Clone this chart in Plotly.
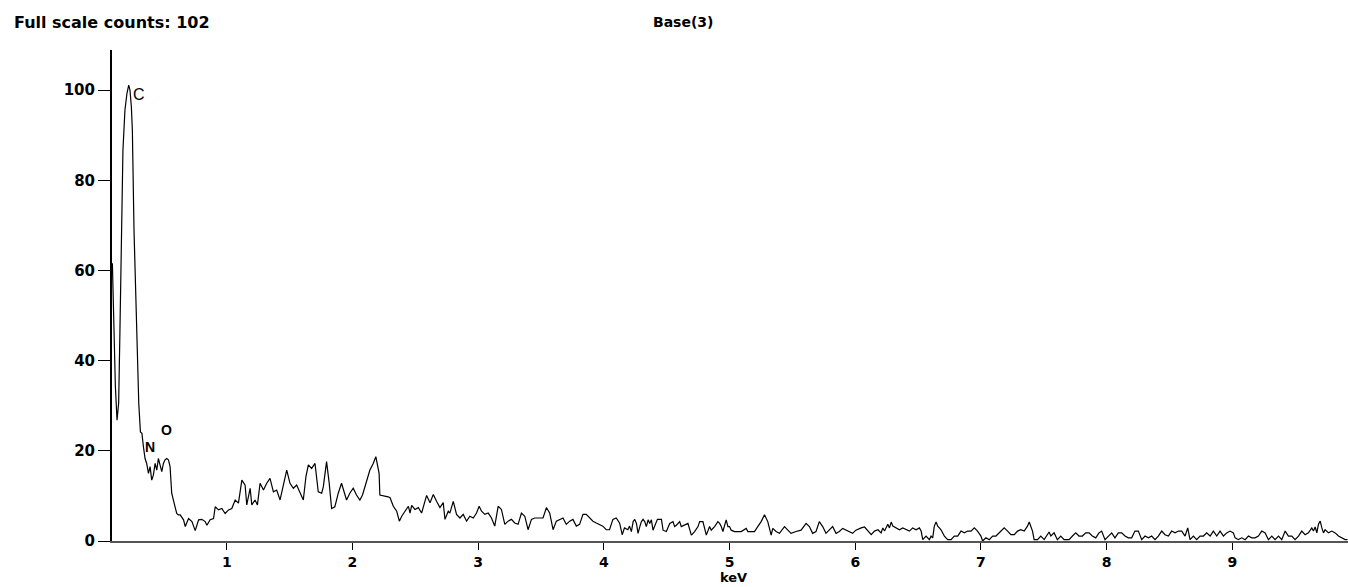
import plotly.graph_objects as go

# ---- data (energy in keV, counts) ----
energy_kev = [
    0.090, 0.100, 0.114, 0.127, 0.140, 0.150, 0.162, 0.174, 0.190, 0.206, 0.220, 0.230, 0.241, 0.249,
    0.262, 0.280, 0.300, 0.313, 0.325, 0.337, 0.350, 0.363, 0.377, 0.390, 0.403, 0.416, 0.430, 0.443,
    0.456, 0.469, 0.483, 0.496, 0.509, 0.522, 0.536, 0.549, 0.562, 0.575, 0.589, 0.602, 0.615,
    0.630, 0.656, 0.670, 0.696, 0.723, 0.749, 0.776, 0.802, 0.828, 0.842, 0.868, 0.895, 0.908, 0.934,
    0.961, 0.987, 1.014, 1.040, 1.067, 1.093, 1.120, 1.146, 1.159, 1.186, 1.199, 1.225, 1.244, 1.265,
    1.292, 1.318, 1.344, 1.371, 1.397, 1.424, 1.450, 1.477, 1.503, 1.530, 1.556, 1.583, 1.609, 1.630,
    1.649, 1.675, 1.702, 1.728, 1.755, 1.768, 1.794, 1.815, 1.834, 1.860, 1.887, 1.913, 1.940, 1.953,
    1.979, 2.006, 2.032, 2.059, 2.080, 2.112, 2.138, 2.165, 2.186, 2.212, 2.218, 2.284, 2.299,
    2.325, 2.352, 2.373, 2.392, 2.418, 2.445, 2.458, 2.471, 2.497, 2.524, 2.550, 2.577, 2.590, 2.617,
    2.643, 2.669, 2.696, 2.722, 2.736, 2.762, 2.775, 2.802, 2.828, 2.855, 2.881, 2.908, 2.934, 2.961,
    2.987, 3.008, 3.027, 3.053, 3.080, 3.106, 3.132, 3.159, 3.185, 3.212, 3.238, 3.265, 3.291, 3.318,
    3.344, 3.371, 3.397, 3.424, 3.450, 3.516, 3.543, 3.569, 3.596, 3.622, 3.648, 3.675, 3.701, 3.728,
    3.754, 3.781, 3.807, 3.834, 3.860, 3.887, 3.913, 3.940, 3.992, 4.019, 4.045, 4.072, 4.098, 4.125,
    4.146, 4.164, 4.191, 4.204,
    4.219, 4.233, 4.246, 4.259, 4.272, 4.286, 4.299, 4.312, 4.325, 4.338, 4.352, 4.365, 4.378, 4.391,
    4.405, 4.426, 4.458, 4.471, 4.497, 4.524, 4.550, 4.563, 4.577, 4.603, 4.616, 4.643, 4.669, 4.696,
    4.722, 4.749, 4.762, 4.788, 4.802, 4.815, 4.841, 4.854, 4.881, 4.907, 4.921, 4.934, 4.947, 4.973,
    4.987, 5.000, 5.013, 5.040, 5.066, 5.093, 5.132, 5.146, 5.198, 5.225, 5.251, 5.278, 5.304, 5.331,
    5.344, 5.370, 5.397, 5.437, 5.463, 5.489, 5.529, 5.569, 5.609, 5.635, 5.661, 5.688, 5.714, 5.741,
    5.767, 5.794, 5.820, 5.847, 5.873, 5.900, 5.926, 5.952, 5.979, 6.005, 6.032,
    6.047, 6.074, 6.100, 6.127, 6.153, 6.180, 6.206, 6.219, 6.233, 6.259, 6.272, 6.286, 6.299, 6.325,
    6.352, 6.378, 6.405, 6.431, 6.457, 6.484, 6.510, 6.524, 6.537, 6.563, 6.590, 6.603, 6.616, 6.629,
    6.643, 6.656, 6.669, 6.682, 6.709, 6.735, 6.762, 6.788, 6.815, 6.841, 6.868, 6.894, 6.921, 6.947,
    6.973, 7.000, 7.013, 7.040, 7.066, 7.093, 7.119, 7.159, 7.185, 7.212, 7.238, 7.265, 7.291, 7.317,
    7.344, 7.370, 7.384, 7.410, 7.423, 7.450, 7.476, 7.503, 7.529, 7.542, 7.556, 7.582, 7.608, 7.635,
    7.661, 7.701, 7.728, 7.754, 7.780, 7.807, 7.833, 7.860, 7.886, 7.913, 7.939,
    7.960, 7.987, 8.013, 8.040, 8.066, 8.093, 8.119, 8.146, 8.172, 8.199, 8.225, 8.252, 8.279, 8.305,
    8.332, 8.358, 8.385, 8.411, 8.438, 8.464, 8.491, 8.517, 8.544, 8.571, 8.597, 8.624, 8.645, 8.663,
    8.690, 8.716, 8.743, 8.770, 8.796, 8.823, 8.849, 8.876, 8.902, 8.929, 8.955, 8.982, 9.008, 9.022,
    9.048, 9.075, 9.101, 9.128, 9.154, 9.181, 9.207, 9.234, 9.261, 9.287, 9.314, 9.340, 9.367, 9.393,
    9.420, 9.446, 9.473, 9.499, 9.526, 9.552, 9.579, 9.605, 9.632, 9.645, 9.659, 9.672, 9.685, 9.699,
    9.712, 9.725, 9.738, 9.765, 9.791, 9.818, 9.844, 9.871, 9.897, 9.916,
]

counts = [
    61.6, 50.1, 34.2, 26.8, 30.6, 46.4, 71.2, 86.7, 95.6, 99.3, 101.1, 100.0, 96.3, 91.1,
    69.0, 51.2, 30.5, 24.2, 23.9, 20.9, 18.3, 17.2, 15.0, 16.5, 13.5, 14.6, 17.2, 15.7,
    18.3, 16.9, 15.4, 17.2, 18.0, 18.3, 18.0, 16.5, 10.6, 9.1, 7.6, 6.1, 5.8,
    5.8, 4.7, 3.2, 5.0, 4.3, 2.3, 4.7, 4.8, 4.3, 3.5, 4.7, 5.0, 7.6, 6.9,
    7.2, 6.1, 6.9, 7.2, 9.1, 8.4, 13.5, 12.4, 8.0, 11.7, 8.0, 9.1, 8.0, 12.8,
    11.3, 12.8, 13.9, 10.9, 11.3, 9.1, 12.4, 15.7, 12.8, 11.7, 12.4, 10.6, 9.1, 14.3,
    16.9, 16.1, 17.2, 10.9, 10.6, 12.0, 17.6, 12.8, 7.2, 7.6, 10.6, 12.8, 10.6, 9.1,
    10.6, 11.7, 10.2, 9.1, 10.2, 13.5, 15.7, 17.2, 18.7, 15.0, 10.2, 9.8, 9.6,
    7.7, 6.6, 4.4, 5.5, 6.6, 7.7, 6.2, 7.9, 7.0, 7.4, 6.2, 8.8, 10.1, 8.5,
    10.3, 8.8, 7.4, 8.5, 4.8, 6.6, 6.2, 8.8, 5.9, 5.1, 5.9, 4.4, 5.5, 5.1,
    6.2, 7.7, 6.6, 5.9, 6.2, 5.1, 3.3, 7.7, 7.0, 3.7, 4.4, 4.8, 4.0, 3.7,
    6.2, 5.5, 2.5, 4.8, 5.1, 5.1, 7.4, 6.2, 2.5, 4.4, 4.8, 5.1, 3.7, 4.4,
    4.8, 3.3, 3.7, 5.9, 5.9, 5.1, 4.4, 4.0, 3.3, 2.5, 2.5, 4.8, 5.1, 4.0,
    1.4, 2.9, 2.5, 3.3,
    2.1, 4.3, 4.8, 3.9, 1.7, 3.2, 4.3, 4.8, 4.3, 3.2, 4.7, 3.9, 4.7, 2.4,
    3.5, 4.8, 4.8, 2.4, 2.1, 3.9, 4.3, 3.2, 3.5, 4.3, 3.2, 3.5, 3.9, 1.3,
    2.1, 3.2, 4.3, 4.3, 2.4, 1.3, 3.2, 2.4, 3.2, 4.3, 3.9, 3.2, 2.1, 4.7,
    3.2, 3.2, 2.4, 2.1, 2.1, 2.1, 2.8, 2.1, 2.1, 3.2, 4.3, 5.8, 4.3, 1.3,
    2.8, 2.1, 1.7, 3.2, 2.4, 1.7, 2.1, 2.4, 3.9, 3.2, 1.7, 2.1, 4.3, 3.2,
    1.7, 2.4, 3.2, 1.7, 2.1, 2.8, 2.4, 2.1, 1.7, 2.4, 2.8,
    2.9, 3.1, 2.2, 1.4, 2.2, 2.5, 1.8, 2.9, 2.2, 3.7, 2.9, 4.2, 3.3, 2.9,
    2.5, 2.9, 2.5, 2.2, 2.9, 2.5, 2.9, 2.2, 0.3, 1.1, 0.3, 1.1, 0.7, 3.3,
    4.2, 3.3, 2.9, 2.5, 1.1, 0.3, 0.3, 1.1, 1.1, 2.2, 1.8, 2.2, 2.2, 2.9,
    2.2, 1.1, 0.0, 0.7, 0.3, 1.1, 1.1, 2.2, 2.9, 2.2, 1.4, 1.4, 2.2, 2.5,
    2.2, 3.3, 4.2, 2.2, 0.3, 0.3, 1.1, 0.3, 1.4, 2.0, 1.1, 1.8, 0.3, 1.1,
    0.3, 0.3, 1.1, 1.8, 1.1, 1.1, 1.8, 1.8, 1.1, 0.7, 1.8,
    2.2, 0.3, 1.1, 1.8, 0.7, 1.8, 1.8, 1.1, 0.7, 0.7, 2.2, 2.2, 0.3, 1.1,
    0.7, 1.1, 0.3, 1.1, 2.2, 1.4, 1.1, 2.2, 1.8, 2.2, 2.2, 1.1, 2.9, 0.3,
    1.1, 0.3, 1.1, 1.1, 1.8, 1.1, 2.2, 1.1, 2.2, 1.1, 1.8, 2.2, 1.8, 0.7,
    0.3, 0.7, 0.3, 1.1, 0.7, 0.7, 1.1, 2.2, 1.8, 0.3, 1.1, 0.3, 1.1, 0.3,
    2.2, 1.1, 1.1, 0.3, 1.1, 2.2, 1.4, 1.8, 2.9, 2.2, 3.1, 1.8, 3.7, 4.4,
    2.9, 1.8, 2.5, 1.8, 2.2, 1.8, 1.1, 0.7, 0.3, 0.3,
]

x_ticks = [1, 2, 3, 4, 5, 6, 7, 8, 9]
y_ticks = [0, 20, 40, 60, 80, 100]

peak_labels = ["C", "N", "O"]
peak_x = [0.298, 0.390, 0.517]
peak_y = [99.1, 20.8, 24.6]

title_left = "Full scale counts: 102"
title_mid = "Base(3)"
x_title = "keV"

XTICK_FONT = dict(family="DejaVu Sans", size=14, color="black", weight="bold")
YTICK_FONT = dict(family="DejaVu Sans", size=15, color="black", weight="bold")

fig = go.Figure()
fig.add_trace(go.Scatter(
    x=energy_kev, y=counts, mode="lines",
    line=dict(color="black", width=1.2), hoverinfo="skip", showlegend=False,
))

fig.update_layout(
    width=1348, height=587,
    margin=dict(l=112, r=0, t=50, b=46, pad=0),
    paper_bgcolor="white", plot_bgcolor="white",
    showlegend=False,
)

fig.update_xaxes(
    range=[0.087, 9.92], tickvals=x_ticks, ticktext=[str(v) for v in x_ticks],
    showgrid=False, zeroline=False, showline=True, linecolor="#555555", linewidth=2,
    ticks="outside", ticklen=7, tickwidth=1, tickcolor="black", tickfont=XTICK_FONT,
)
fig.update_yaxes(
    range=[0, 108.9], tickvals=y_ticks, ticktext=[str(v) for v in y_ticks],
    showgrid=False, zeroline=False, showline=True, linecolor="black", linewidth=2,
    ticks="outside", ticklen=12, tickwidth=1, tickcolor="black", tickfont=YTICK_FONT,
)

# texts
fig.add_annotation(text=title_left, xref="paper", yref="paper", x=-0.0809, y=1.057,
                   xanchor="left", yanchor="middle", showarrow=False,
                   font=dict(family="DejaVu Sans", size=16, color="black", weight="bold"))
fig.add_annotation(text=title_mid, xref="paper", yref="paper", x=0.462, y=1.057,
                   xanchor="center", yanchor="middle", showarrow=False,
                   font=dict(family="DejaVu Sans", size=14, color="black", weight="bold"))
fig.add_annotation(text=x_title, xref="paper", yref="paper", x=0.5032, y=-0.0937,
                   xanchor="center", yanchor="bottom", showarrow=False,
                   font=dict(family="DejaVu Sans", size=13, color="black", weight="bold"))

for lab, px, py in zip(peak_labels, peak_x, peak_y):
    fig.add_annotation(text=lab, x=px, y=py, xref="x", yref="y", showarrow=False,
                       xanchor="center", yanchor="middle",
                       font=dict(family="Liberation Sans", size=16 if lab == "C" else 14,
                                 color="black", weight="normal" if lab == "C" else "bold"))

fig.write_html("out.html")
